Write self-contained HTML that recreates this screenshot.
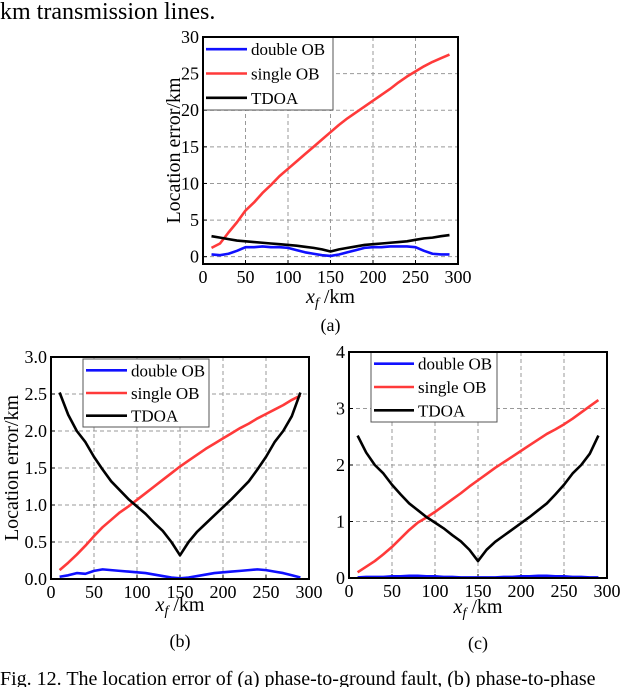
<!DOCTYPE html>
<html><head><meta charset="utf-8"><style>
body{margin:0;background:#fff;}
svg{display:block;font-family:"Liberation Serif",serif;}
</style></head><body>
<svg id="fig" width="640" height="687" viewBox="0 0 640 687">
<text x="0" y="19" font-size="24">km transmission lines.</text>
<text x="0" y="685" font-size="20">Fig. 12. The location error of (a) phase-to-ground fault, (b) phase-to-phase</text>
</svg>
<script>
const xs = [10,20,30,40,50,60,70,80,90,100,110,120,130,140,150,160,170,180,190,200,210,220,230,240,250,260,270,280,290];
const seriesNames = ["double OB","single OB","TDOA"];
const aDouble = [0.3,0.2,0.4,0.8,1.3,1.3,1.4,1.3,1.3,1.2,0.9,0.6,0.4,0.2,0.1,0.3,0.6,0.9,1.2,1.3,1.3,1.4,1.4,1.4,1.3,0.8,0.4,0.3,0.3];
const aSingle = [1.2,1.8,3.3,4.7,6.3,7.4,8.7,9.8,11.0,12.0,13.0,14.0,15.0,16.0,17.0,18.0,18.9,19.7,20.5,21.3,22.1,22.9,23.8,24.6,25.3,26.0,26.6,27.1,27.6];
const aTdoa = [2.8,2.6,2.4,2.2,2.1,2.0,1.9,1.8,1.7,1.6,1.5,1.35,1.2,1.0,0.7,1.0,1.2,1.4,1.6,1.7,1.8,1.9,2.0,2.1,2.3,2.5,2.6,2.8,2.95];
const bDouble = [0.03,0.05,0.08,0.07,0.11,0.13,0.12,0.11,0.1,0.09,0.08,0.06,0.04,0.02,0.01,0.02,0.04,0.06,0.08,0.09,0.1,0.11,0.12,0.13,0.12,0.1,0.08,0.05,0.02];
const bSingle = [0.12,0.22,0.33,0.45,0.58,0.7,0.8,0.9,0.98,1.07,1.16,1.25,1.34,1.43,1.52,1.6,1.68,1.76,1.83,1.9,1.97,2.04,2.1,2.17,2.23,2.29,2.35,2.42,2.48];
const bTdoa = [2.52,2.22,2.0,1.85,1.65,1.48,1.32,1.2,1.08,0.98,0.88,0.76,0.65,0.5,0.32,0.5,0.64,0.75,0.86,0.97,1.08,1.2,1.32,1.48,1.65,1.85,2.0,2.2,2.52];
const cDouble = [0.01,0.02,0.02,0.02,0.03,0.03,0.04,0.04,0.03,0.03,0.02,0.02,0.01,0.01,0.01,0.01,0.01,0.02,0.02,0.03,0.03,0.04,0.04,0.03,0.03,0.02,0.02,0.01,0.01];
const cSingle = [0.1,0.2,0.3,0.42,0.55,0.7,0.85,0.98,1.07,1.17,1.28,1.39,1.5,1.62,1.73,1.84,1.95,2.05,2.15,2.25,2.35,2.45,2.55,2.63,2.72,2.82,2.93,3.04,3.15];
const cTdoa = [2.52,2.22,2.0,1.85,1.65,1.48,1.32,1.2,1.08,0.98,0.88,0.76,0.65,0.5,0.3,0.5,0.64,0.75,0.86,0.97,1.08,1.2,1.32,1.48,1.65,1.85,2.0,2.2,2.52];
const xTicks = [0,50,100,150,200,250,300];
const aYTicks = [0,5,10,15,20,25,30];
const bYTicks = [0,0.5,1.0,1.5,2.0,2.5,3.0];
const bYLabels = ["0.0","0.5","1.0","1.5","2.0","2.5","3.0"];
const cYTicks = [0,1,2,3,4];

const NS="http://www.w3.org/2000/svg";
const svg=document.getElementById('fig');
function mk(tag,attrs,parent,txt){const e=document.createElementNS(NS,tag);for(const k in attrs)e.setAttribute(k,attrs[k]);if(txt!==undefined)e.textContent=txt;(parent||svg).appendChild(e);return e;}
const colors=["#1010ff","#ff3a3a","#000"];

function chart(id,box,ymin,ymax,yTicks,yLabels,series,leg,labels){
  const g=mk('g',{});
  
  
  const X=v=>box.l+(v-0)/300*(box.r-box.l);
  const Y=v=>box.b-(v-ymin)/(ymax-ymin)*(box.b-box.t);
  xTicks.forEach(t=>{
    if(t>0&&t<300){const l=mk('line',{x1:X(t),x2:X(t),y1:box.t,y2:box.b,stroke:'#999','stroke-dasharray':'4,3','stroke-width':1},g);
      }
    mk('line',{x1:X(t),x2:X(t),y1:box.b,y2:box.b-4,stroke:'#000'},g);
    const tx=mk('text',{x:X(t),y:box.b+19,'font-size':18,'text-anchor':'middle'},g,String(t));
    
  });
  yTicks.forEach((t,i)=>{
    if(t>ymin&&t<ymax){const l=mk('line',{x1:box.l,x2:box.r,y1:Y(t),y2:Y(t),stroke:'#999','stroke-dasharray':'4,3','stroke-width':1},g);
      }
    mk('line',{x1:box.l,x2:box.l+4,y1:Y(t),y2:Y(t),stroke:'#000'},g);
    const tx=mk('text',{x:box.l-4,y:Y(t)+6,'font-size':18,'text-anchor':'end'},g,yLabels?yLabels[i]:String(t));
    
  });
  series.forEach((s,si)=>{
    const p=mk('polyline',{points:xs.map((x,i)=>X(x)+','+Y(s[i])).join(' '),fill:'none',stroke:colors[si],'stroke-width':2.6,'stroke-linejoin':'round'},g);
    
    
  });
  const lg=mk('g',{},g);
  
  
  mk('rect',{x:leg.x,y:leg.y,width:leg.w,height:leg.h,fill:'#fff',stroke:'#555','stroke-width':1},lg);
  seriesNames.forEach((n,i)=>{
    const yy=leg.y+leg.h*(i+0.5)/3;
    mk('line',{x1:leg.x+3,x2:leg.x+leg.lw,y1:yy,y2:yy,stroke:colors[i],'stroke-width':2.6},lg);
    const t=mk('text',{x:leg.x+leg.lw+4,y:yy+6,'font-size':17},lg,n);
    
  });
  const fr=mk('rect',{x:box.l,y:box.t,width:box.r-box.l,height:box.b-box.t,fill:'none',stroke:'#000','stroke-width':2},g);
  
  const xl=mk('text',{x:(box.l+box.r)/2,y:labels.xy,'font-size':20,'text-anchor':'middle'},g);
  
  mk('tspan',{'font-style':'italic'},xl,'x');
  mk('tspan',{'font-style':'italic','font-size':14,dy:4},xl,'f');
  mk('tspan',{dy:-4},xl,' /km');
  if(labels.yl){const yl=mk('text',{transform:`translate(${labels.yx},${(box.t+box.b)/2}) rotate(-90)`,'font-size':20,'text-anchor':'middle'},g,'Location error/km');
    }
  const sl=mk('text',{x:(box.l+box.r)/2,y:labels.sy,'font-size':18,'text-anchor':'middle'},g,labels.sub);
  
}
chart('a',{l:203,r:458,t:37,b:264},-1,30,aYTicks,null,[aDouble,aSingle,aTdoa],{x:203,y:37,w:130,h:73,lw:44},{xy:303,yl:1,yx:180,sy:331,sub:'(a)'});
chart('b',{l:51,r:309,t:357,b:579},0,3,bYTicks,bYLabels,[bDouble,bSingle,bTdoa],{x:83,y:359,w:126,h:68,lw:44},{xy:611,yl:1,yx:18,sy:647,sub:'(b)'});
chart('c',{l:349,r:607,t:352,b:578},0,4,cYTicks,null,[cDouble,cSingle,cTdoa],{x:371,y:352,w:126,h:70,lw:43},{xy:613,yl:0,sy:649,sub:'(c)'});
</script>
</body></html>
